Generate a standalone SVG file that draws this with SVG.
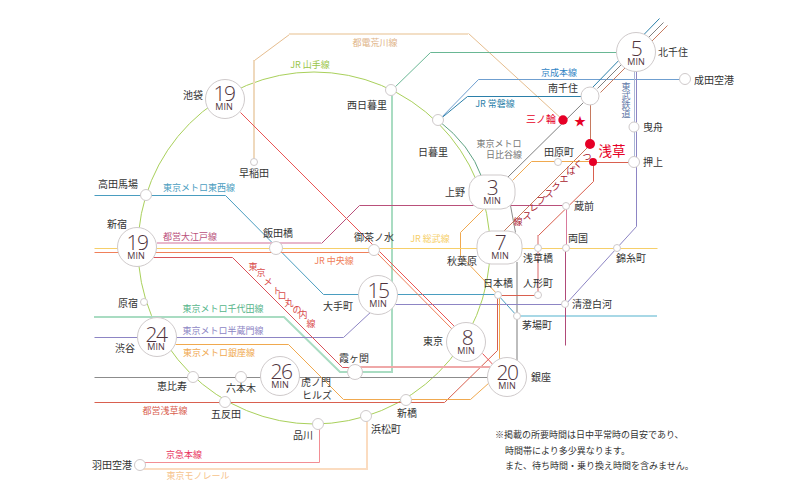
<svg xmlns="http://www.w3.org/2000/svg" width="801" height="501" viewBox="0 0 801 501">
<style>
text{font-family:"Noto Sans CJK JP","Noto Sans",sans-serif;font-size:10px;fill:#333;text-anchor:middle}
.l{fill:none;stroke-width:1;transform:translate(.5px,.5px)}
.p{fill:none;stroke-width:2}
.n{fill:#fff;stroke:#cfcacb;stroke-width:1}
.num{font-family:"Open Sans","Liberation Sans",sans-serif;font-weight:300;font-size:21px;fill:#4f343d;letter-spacing:-1.5px}
.min{font-family:"Open Sans","Liberation Sans",sans-serif;font-size:9px;fill:#4f343d}
.lb{font-size:9px}
.r{fill:#e60026;stroke:none}
.note{font-size:9px;text-anchor:start}
</style>
<rect width="801" height="501" fill="#fff"/>
<g id="connectors">
<circle class="l" cx="314" cy="248" r="176" stroke="#a9d05b" style="transform:none"/>
<path class="l" d="M438 120Q470 145 481 176" stroke="#5fa383"/>
<path class="p" d="M254 162V60" stroke="#efd9bd"/>
<path class="l" d="M254 60L289 34" stroke="#e6bd8e"/>
<path class="p" d="M289 34H468" stroke="#f3dfc6"/>
<path class="l" d="M468 33L563 120" stroke="#e6bd8e"/>
<path class="p" d="M94 317H284L340 372H392V90" stroke="#a9dcc2"/>
<path class="l" d="M391 90L430 52H620" stroke="#69b794"/>
<path class="l" d="M438 120L478 79H685" stroke="#6f9fd0"/>
<path class="l" d="M438 120L467 96H582" stroke="#2b7fa9"/>
<path class="l" d="M592 87L659 18" stroke="#2b7fa9"/>
<path class="l" d="M597 88L663 22" stroke="#808080"/>
<path class="l" d="M600 92L667 25" stroke="#c67a5f"/>
<path class="l" d="M507 177L583 102" stroke="#808080"/>
<path class="l" d="M94 377H490" stroke="#8c8c8c"/>
<path class="l" d="M510 205L515 232" stroke="#8c8c8c"/>
<path class="p" d="M517 262V372" stroke="#bdbdbd"/>
<path class="l" d="M590 96V144L503 231" stroke="#c67a5f"/>
<path class="l" d="M94 195H225L323 294H497L517 316" stroke="#4a9dc0"/>
<path class="p" d="M517 316H657" stroke="#a8d8e6"/>
<path class="l" d="M94 337H343L372 310M395 304H565L636 226V70" stroke="#8d85c4"/>
<path class="l" d="M634 70V162" stroke="#aab6d6"/>
<path class="l" d="M94 402H444L497 350V295H538" stroke="#d9604f"/>
<path class="p" d="M538 295V235" stroke="#ecb2b2"/>
<path class="l" d="M538 235L593 181V162H634" stroke="#d9604f"/>
<path class="l" d="M175 344H288L343 399H470L489 382M499 380V296L460 255V232L483 209M512 180L531 161H591" stroke="#f0a94f"/>
<path class="p" d="M157 243H321" stroke="#e8b7cc"/>
<path class="l" d="M321 243L359 205H566" stroke="#b9507a"/>
<path class="l" d="M566 206V248" stroke="#d97a9c"/>
<path class="l" d="M565 248V345" stroke="#b04a78"/>
<path class="l" d="M94 248H657" stroke="#f6cf6a"/>
<path class="l" d="M94 252H376L453 330" stroke="#f0805a"/>
<path class="l" d="M240 112L456 328M482 353L497 369" stroke="#ea5555"/>
<path class="l" d="M145 257H232L342 367H355" stroke="#d9535b"/>
<path class="p" d="M355 367H490" stroke="#efa8a8"/>
<path class="l" d="M143 462H319V424" stroke="#f28e94"/>
<path class="p" d="M143 469H367V416" stroke="#fbdcc0"/>
</g>
<g id="n-kitasenju"><circle class="n" cx="636" cy="52" r="19.500"/><text class="num" x="636" y="56">5</text><text class="min" x="636" y="65">MIN</text><text x="673" y="56">北千住</text></g>
<g id="n-ikebukuro"><circle class="n" cx="225" cy="99" r="19.500"/><text class="num" x="224" y="101">19</text><text class="min" x="224" y="110">MIN</text><text x="193" y="99">池袋</text></g>
<g id="n-ueno"><rect class="n" x="469" y="175" width="46" height="34" rx="14"/><text class="num" x="492" y="195">3</text><text class="min" x="492" y="204">MIN</text><text x="455" y="196">上野</text></g>
<g id="n-akihabara"><rect class="n" x="477" y="231" width="45" height="33" rx="14"/><text class="num" x="500" y="250">7</text><text class="min" x="500" y="259">MIN</text><text x="462" y="265">秋葉原</text></g>
<g id="n-shinjuku"><circle class="n" cx="137" cy="247" r="19.500"/><text class="num" x="137" y="250">19</text><text class="min" x="136" y="259">MIN</text><text x="117" y="228">新宿</text></g>
<g id="n-otemachi"><circle class="n" cx="378" cy="295" r="19.500"/><text class="num" x="378" y="298">15</text><text class="min" x="378" y="307">MIN</text><text x="338" y="310">大手町</text></g>
<g id="n-shibuya"><circle class="n" cx="157" cy="337" r="19.500"/><text class="num" x="156" y="342">24</text><text class="min" x="156" y="350">MIN</text><text x="125" y="352">渋谷</text></g>
<g id="n-toranomon"><circle class="n" cx="280" cy="376" r="19.500"/><text class="num" x="281" y="379">26</text><text class="min" x="280" y="388">MIN</text><text x="316" y="386">虎ノ門</text><text x="317" y="399">ヒルズ</text></g>
<g id="n-tokyo"><circle class="n" cx="466" cy="342" r="19.500"/><text class="num" x="467" y="345">8</text><text class="min" x="466" y="354">MIN</text><text x="433" y="345">東京</text></g>
<g id="n-ginza"><circle class="n" cx="507" cy="377" r="19.500"/><text class="num" x="507" y="380">20</text><text class="min" x="507" y="389">MIN</text><text x="541" y="381">銀座</text></g>
<g id="n-takadanobaba"><circle class="n" cx="146" cy="195" r="5.500"/><text x="118" y="188">高田馬場</text></g>
<g id="n-harajuku"><circle class="n" cx="144" cy="302" r="3.500"/><text x="128" y="307">原宿</text></g>
<g id="n-iidabashi"><circle class="n" cx="276" cy="248" r="6.500"/><text x="278" y="237">飯田橋</text></g>
<g id="n-ochanomizu"><circle class="n" cx="374" cy="250" r="5.500"/><text x="374" y="241">御茶ノ水</text></g>
<g id="n-ebisu"><circle class="n" cx="193" cy="377" r="5.500"/><text x="172" y="390">恵比寿</text></g>
<g id="n-roppongi"><circle class="n" cx="241" cy="377" r="5.500"/><text x="241" y="392">六本木</text></g>
<g id="n-gotanda"><circle class="n" cx="225" cy="402" r="5.500"/><text x="226" y="418">五反田</text></g>
<g id="n-shinagawa"><circle class="n" cx="318" cy="424" r="5.500"/><text x="303" y="439">品川</text></g>
<g id="n-hamamatsucho"><circle class="n" cx="366" cy="416" r="5.500"/><text x="386" y="433">浜松町</text></g>
<g id="n-shimbashi"><circle class="n" cx="406" cy="400" r="5.500"/><text x="407" y="417">新橋</text></g>
<g id="n-kasumigaseki"><circle class="n" cx="355" cy="372" r="7.500"/><text x="354" y="362">霞ヶ関</text></g>
<g id="n-nishinippori"><circle class="n" cx="391" cy="90" r="5.500"/><text x="367" y="109">西日暮里</text></g>
<g id="n-nippori"><circle class="n" cx="438" cy="120" r="5.500"/><text x="433" y="156">日暮里</text></g>
<g id="n-waseda"><circle class="n" cx="254" cy="162" r="3.500"/><text x="254" y="177">早稲田</text></g>
<g id="n-tawaramachi"><circle class="n" cx="558" cy="162" r="3.500"/><text x="559" y="156">田原町</text></g>
<g id="n-minamisenju"><circle class="n" cx="590" cy="96" r="9"/><text x="563" y="92">南千住</text></g>
<g id="n-hikifune"><circle class="n" cx="634" cy="127" r="5"/><text x="653" y="131">曳舟</text></g>
<g id="n-oshiage"><circle class="n" cx="634" cy="162" r="5.500"/><text x="653" y="166">押上</text></g>
<g id="n-kuramae"><circle class="n" cx="566" cy="206" r="3.500"/><text x="584" y="210">蔵前</text></g>
<g id="n-asakusabashi"><circle class="n" cx="538" cy="248" r="3.500"/><text x="538" y="262">浅草橋</text></g>
<g id="n-ryogoku"><circle class="n" cx="566" cy="248" r="3.500"/><text x="578" y="242">両国</text></g>
<g id="n-kinshicho"><circle class="n" cx="617" cy="248" r="3.500"/><text x="631" y="262">錦糸町</text></g>
<g id="n-ningyocho"><circle class="n" cx="538" cy="295" r="3.500"/><text x="538" y="287">人形町</text></g>
<g id="n-kiyosumi"><circle class="n" cx="565" cy="304" r="3.500"/><text x="592" y="308">清澄白河</text></g>
<g id="n-nihombashi"><circle class="n" cx="498" cy="295" r="3.500"/><text x="498" y="287">日本橋</text></g>
<g id="n-kayabacho"><circle class="n" cx="517" cy="316" r="3.500"/><text x="537" y="329">茅場町</text></g>
<g id="n-haneda"><circle class="n" cx="140" cy="465" r="5.500"/><text x="112" y="469">羽田空港</text></g>
<g id="n-narita"><circle class="n" cx="685" cy="79" r="5.500"/><text x="714" y="84">成田空港</text></g>
<g id="n-minowa"><circle class="r" cx="563" cy="120" r="4.700"/><text x="541" y="123" style="fill:#e60026">三ノ輪</text><text x="580" y="126" style="fill:#e60026;font-size:12px">★</text></g>
<g id="n-asakusa"><circle class="r" cx="590" cy="144" r="5"/><text x="612" y="156" style="fill:#e60026;font-size:13.500px">浅草</text></g>
<circle class="r" cx="593" cy="162" r="4"/>
<g id="labels">
<text class="lb" x="375" y="46" style="fill:#e0b488">都電荒川線</text>
<text class="lb" x="310" y="68" style="fill:#9ac64a">JR 山手線</text>
<text class="lb" x="559" y="76" style="fill:#2f84c4">京成本線</text>
<text class="lb" x="495" y="107" style="fill:#2b7fa9">JR 常磐線</text>
<text class="lb" x="499" y="147" style="fill:#777">東京メトロ</text>
<text class="lb" x="504" y="158" style="fill:#777">日比谷線</text>
<text class="lb" x="199" y="191" style="fill:#4a9dc0">東京メトロ東西線</text>
<text class="lb" x="190" y="240" style="fill:#b9507a">都営大江戸線</text>
<text class="lb" x="430" y="242" style="fill:#f6cf6a">JR 総武線</text>
<text class="lb" x="334" y="264" style="fill:#f0805a">JR 中央線</text>
<text class="lb" x="223" y="312" style="fill:#55b58a">東京メトロ千代田線</text>
<text class="lb" x="223" y="334" style="fill:#8d85c4">東京メトロ半蔵門線</text>
<text class="lb" x="219" y="356" style="fill:#f0a94f">東京メトロ銀座線</text>
<text class="lb" x="165" y="414" style="fill:#d9604f">都営浅草線</text>
<text class="lb" x="184" y="458" style="fill:#e8305a">京急本線</text>
<text class="lb" x="198" y="479" style="fill:#f6c38c">東京モノレール</text>
<text class="lb" style="fill:#d94a4a" x="253 261 268 277 282 289 297 303 311" y="270 276 285 294 299 306 313 318 327">東京メトロ丸の内線</text>
<text class="lb" style="fill:#a8182c" x="587 578 571 564 556 549 541 534 527 518" y="160 167 174 182 190 197 204 211 219 225">つくばエクスプレス線</text>
<text class="lb" style="fill:#5f78a8" x="626 626 626 626" y="90 99 108 117">東武鉄道</text>
<text class="note" x="495" y="438">※掲載の所要時間は日中平常時の目安であり、</text>
<text class="note" x="505" y="454">時間帯により多少異なります。</text>
<text class="note" x="505" y="469">また、待ち時間・乗り換え時間を含みません。</text>
</g>
</svg>
